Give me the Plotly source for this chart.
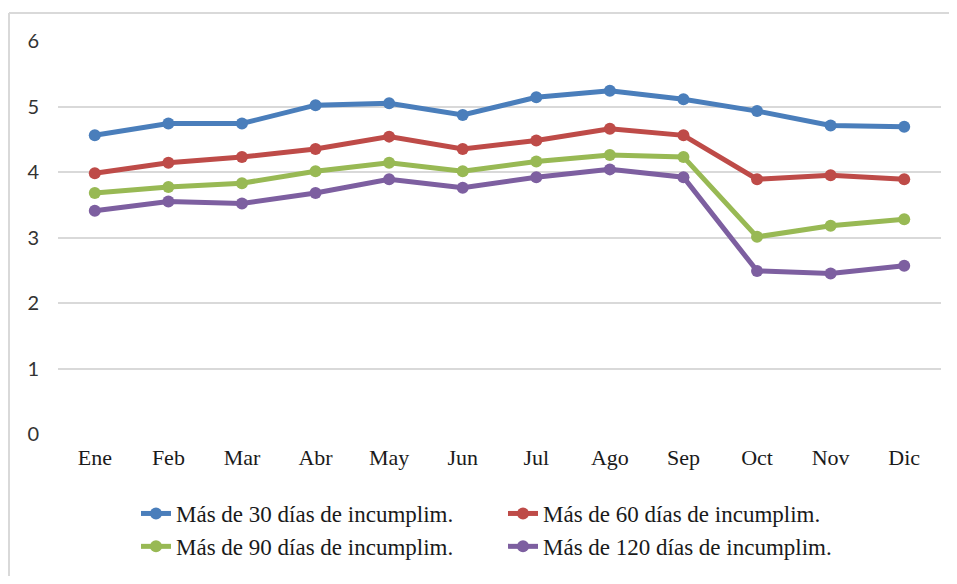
import plotly.graph_objects as go

months = ["Ene", "Feb", "Mar", "Abr", "May", "Jun", "Jul", "Ago", "Sep", "Oct", "Nov", "Dic"]

mas_30 = [4.56, 4.74, 4.74, 5.02, 5.05, 4.87, 5.14, 5.24, 5.11, 4.93, 4.71, 4.69]
mas_60 = [3.98, 4.14, 4.23, 4.35, 4.54, 4.35, 4.48, 4.66, 4.56, 3.89, 3.95, 3.89]
mas_90 = [3.68, 3.77, 3.83, 4.01, 4.14, 4.01, 4.16, 4.26, 4.23, 3.01, 3.18, 3.28]
mas_120 = [3.41, 3.55, 3.52, 3.68, 3.89, 3.76, 3.92, 4.04, 3.92, 2.49, 2.45, 2.57]

series_names = [
    "Más de 30 días de incumplim.",
    "Más de 60 días de incumplim.",
    "Más de 90 días de incumplim.",
    "Más de 120 días de incumplim.",
]
colors = ["#4A7EBB", "#BE4B48", "#98B954", "#7D5FA0"]

# the page body has an 8px margin; size the figure so the page does not overflow
OFF = 8
W, H = 957 - 2 * OFF, 584 - 2 * OFF
L, T = 58 - OFF, 41 - OFF
R = W - (941 - OFF)
B = H - (434 - OFF)
pw, ph = W - L - R, H - T - B

fig = go.Figure()
for name, vals, col in zip(series_names, [mas_30, mas_60, mas_90, mas_120], colors):
    fig.add_trace(go.Scatter(
        x=months, y=vals, mode="lines+markers", name=name,
        line=dict(color=col, width=5),
        marker=dict(color=col, size=12),
    ))

# screen pixel -> paper helpers
def px_x(p):
    return (p - OFF - L) / pw

def px_y(p):
    return (H - B - (p - OFF)) / ph

# light grey outer frame: only the top and left edges are in view
frame = dict(color="#D9D9D9", width=2)
fig.add_shape(type="line", xref="paper", yref="paper",
              x0=px_x(9), x1=px_x(960), y0=px_y(13), y1=px_y(13),
              line=frame, layer="below")
fig.add_shape(type="line", xref="paper", yref="paper",
              x0=px_x(9), x1=px_x(9), y0=px_y(13), y1=px_y(590),
              line=frame, layer="below")

fig.update_layout(
    width=W, height=H,
    margin=dict(l=L, r=R, t=T, b=B, autoexpand=False),
    paper_bgcolor="white", plot_bgcolor="white",
    font=dict(family="Liberation Serif", size=22, color="#1a1a1a"),
    showlegend=True,
    legend=dict(
        orientation="h", x=px_x(136), xanchor="left",
        y=px_y(492), yanchor="top",
        entrywidth=322, entrywidthmode="pixels",
        font=dict(family="Liberation Serif", size=23, color="#1a1a1a"),
    ),
    xaxis=dict(
        type="category", range=[-0.5, 11.5],
        showgrid=False, zeroline=False, showline=False,
        tickfont=dict(family="Liberation Serif", size=22, color="#1a1a1a"),
        ticklabelstandoff=8,
    ),
    yaxis=dict(
        range=[0, 6], dtick=1, tick0=0,
        showgrid=True, gridcolor="#D9D9D9", gridwidth=1.5,
        zeroline=False, showline=False,
        tickfont=dict(family="Lato", size=20, color="#333333"),
        ticklabelstandoff=18,
    ),
)

fig.write_html("out.html")
